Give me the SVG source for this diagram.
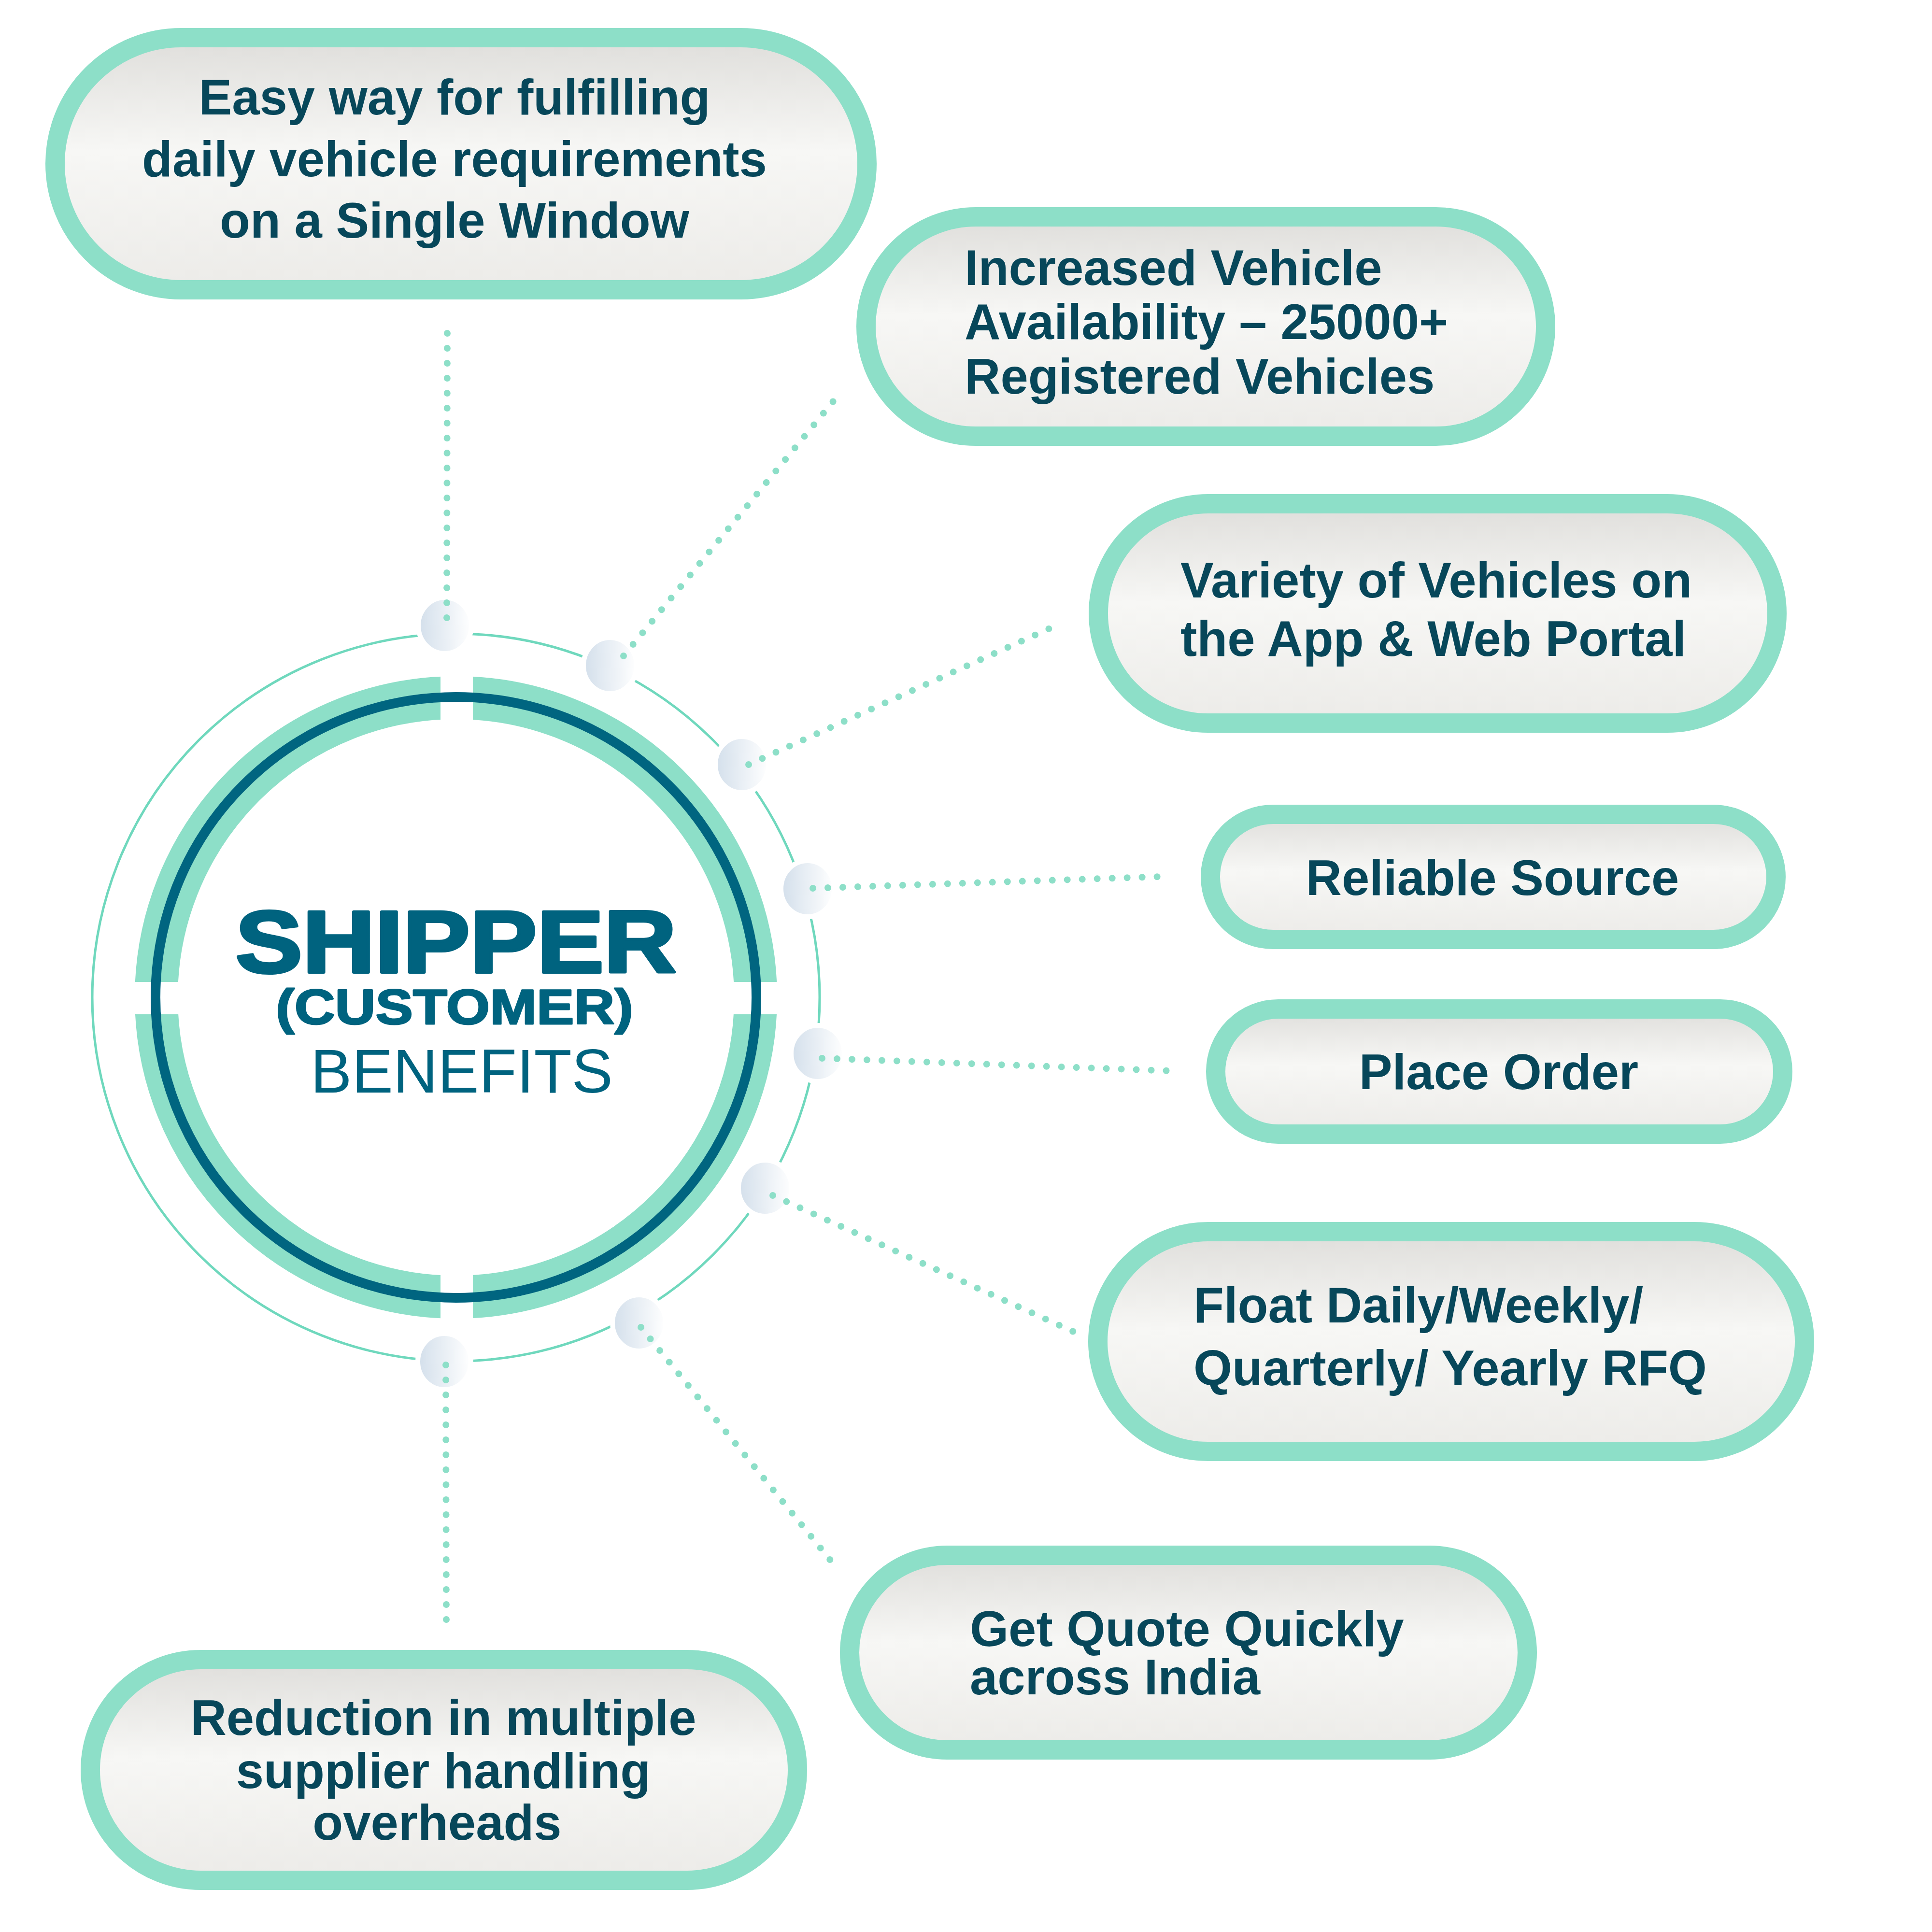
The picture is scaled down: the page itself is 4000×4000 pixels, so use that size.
<svg xmlns="http://www.w3.org/2000/svg" width="4000" height="4000" viewBox="0 0 4000 4000">
<defs>
<linearGradient id="pillFill" x1="0" y1="0" x2="0" y2="1">
<stop offset="0" stop-color="#dfdedb"/>
<stop offset="0.45" stop-color="#f7f7f5"/>
<stop offset="1" stop-color="#ecebe8"/>
</linearGradient>
<linearGradient id="beadFill" x1="0" y1="0" x2="1" y2="0">
<stop offset="0" stop-color="#d3dfeb"/>
<stop offset="1" stop-color="#ffffff"/>
</linearGradient>
<mask id="ringGap">
<rect x="0" y="0" width="4000" height="4000" fill="#fff"/>
<rect x="912" y="1300" width="67" height="1530" fill="#000"/>
<rect x="180" y="2033" width="1530" height="67" fill="#000"/>
</mask>
</defs>
<style>
.pill{fill:url(#pillFill);stroke:#8ddfc8;stroke-width:40}
.lbl{font-family:"Liberation Sans",Arial,sans-serif;font-weight:bold;font-size:103px;fill:#07475a}
.mid{text-anchor:middle}
.bead{fill:url(#beadFill);stroke:#fff;stroke-width:10}
.dots{fill:none;stroke:#8ddfc8;stroke-width:14;stroke-linecap:round;stroke-dasharray:0 31}
.heavy{stroke:#00637f;stroke-linejoin:round}
</style>
<rect width="4000" height="4000" fill="#fff"/>

<g id="hub">
<circle cx="944" cy="2065" r="753" fill="none" stroke="#6fd8bd" stroke-width="5"/>
<circle cx="944" cy="2065" r="620.5" fill="none" stroke="#8ddfc8" stroke-width="89" mask="url(#ringGap)"/>
<circle cx="944" cy="2065" r="622" fill="none" stroke="#006580" stroke-width="20"/>
<text class="heavy" x="944" y="2013" text-anchor="middle" textLength="913" lengthAdjust="spacingAndGlyphs" font-family="Liberation Sans, Arial, sans-serif" font-weight="bold" font-size="182" fill="#00637f" stroke-width="6">SHIPPER</text>
<text class="heavy" x="941" y="2120" text-anchor="middle" textLength="740" lengthAdjust="spacingAndGlyphs" font-family="Liberation Sans, Arial, sans-serif" font-weight="bold" font-size="102" fill="#00637f" stroke-width="3">(CUSTOMER)</text>
<text x="956" y="2262" text-anchor="middle" font-family="Liberation Sans, Arial, sans-serif" font-size="128" fill="#00637f">BENEFITS</text>
</g>

<g id="beads">
<ellipse class="bead" cx="921" cy="1295" rx="55" ry="58"/>
<ellipse class="bead" cx="1263" cy="1378" rx="55" ry="58"/>
<ellipse class="bead" cx="1536" cy="1583" rx="55" ry="58"/>
<ellipse class="bead" cx="1672" cy="1840" rx="55" ry="58"/>
<ellipse class="bead" cx="1693" cy="2181" rx="55" ry="58"/>
<ellipse class="bead" cx="1584" cy="2460" rx="55" ry="58"/>
<ellipse class="bead" cx="1323" cy="2739" rx="55" ry="58"/>
<ellipse class="bead" cx="920" cy="2819" rx="55" ry="58"/>
</g>

<g id="connectors">
<path class="dots" d="M925 1279 L926 685"/>
<path class="dots" d="M1291 1358 L1730 825"/>
<path class="dots" d="M1550 1583 L2180 1298"/>
<path class="dots" d="M1683 1839 L2402 1815"/>
<path class="dots" d="M1702 2191 L2421 2217"/>
<path class="dots" d="M1600 2475 L2229 2760"/>
<path class="dots" d="M1327 2748 L1724 3236"/>
<path class="dots" d="M923 2826 L924 3357"/>
</g>

<g id="node-easy-way">
<rect class="pill" x="114" y="78" width="1681" height="522" rx="261"/>
<text class="lbl mid" x="941" y="237">Easy way for fulfilling</text>
<text class="lbl mid" x="941" y="365">daily vehicle requirements</text>
<text class="lbl mid" x="941" y="492">on a Single Window</text>
</g>

<g id="node-increased">
<rect class="pill" x="1793" y="449" width="1407" height="454" rx="227"/>
<text class="lbl" x="1997" y="590">Increased Vehicle</text>
<text class="lbl" x="1997" y="702">Availability – 25000+</text>
<text class="lbl" x="1997" y="815">Registered Vehicles</text>
</g>

<g id="node-variety">
<rect class="pill" x="2274" y="1043" width="1405" height="454" rx="227"/>
<text class="lbl" x="2444" y="1237">Variety of Vehicles on</text>
<text class="lbl" x="2444" y="1358">the App &amp; Web Portal</text>
</g>

<g id="node-reliable">
<rect class="pill" x="2506" y="1686" width="1171" height="259" rx="129.5"/>
<text class="lbl mid" x="3090" y="1853">Reliable Source</text>
</g>

<g id="node-place-order">
<rect class="pill" x="2517" y="2089" width="1174" height="259" rx="129.5"/>
<text class="lbl mid" x="3103" y="2255">Place Order</text>
</g>

<g id="node-float">
<rect class="pill" x="2273" y="2550" width="1463" height="455" rx="227.5"/>
<text class="lbl" x="2471" y="2738">Float Daily/Weekly/</text>
<text class="lbl" x="2471" y="2868">Quarterly/ Yearly RFQ</text>
</g>

<g id="node-get-quote">
<rect class="pill" x="1759" y="3220" width="1403" height="403" rx="201.5"/>
<text class="lbl" x="2008" y="3408">Get Quote Quickly</text>
<text class="lbl" x="2008" y="3508">across India</text>
</g>

<g id="node-reduction">
<rect class="pill" x="187" y="3436" width="1464" height="457" rx="228.5"/>
<text class="lbl mid" x="918" y="3592">Reduction in multiple</text>
<text class="lbl mid" x="918" y="3702">supplier handling</text>
<text class="lbl mid" x="905" y="3809">overheads</text>
</g>
</svg>
